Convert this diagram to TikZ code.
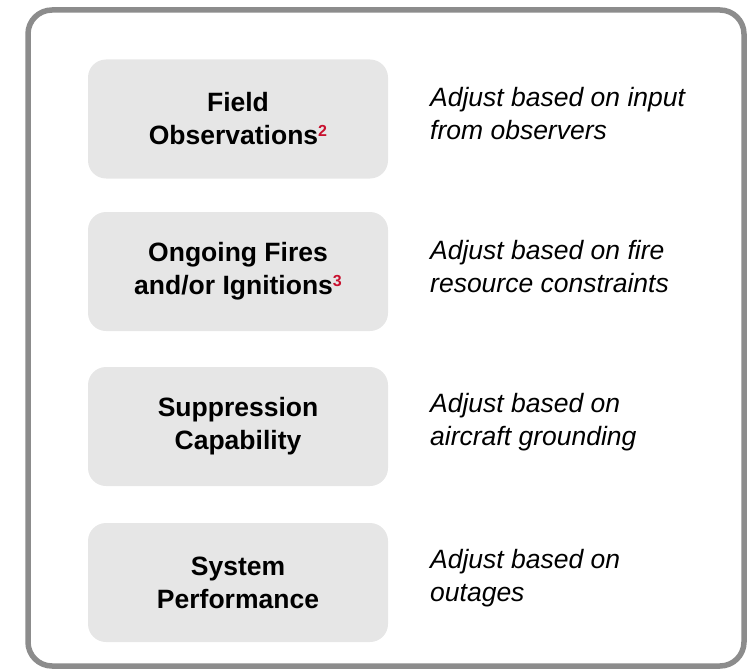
\documentclass[tikz,border=0pt]{standalone}
\usepackage{fontspec}
\setmainfont{Liberation Sans}
\definecolor{framegray}{HTML}{8C8C8C}
\definecolor{boxfill}{HTML}{E6E6E6}
\definecolor{supred}{HTML}{C8102E}
\newcommand{\refnum}[1]{\raisebox{8.5pt}{\fontsize{16}{16}\selectfont\color{supred}#1}}
\tikzset{
  stagebox/.style={fill=boxfill, rounded corners=18pt, minimum width=300pt, minimum height=119pt,
    align=center, inner sep=0pt, font=\bfseries\fontsize{26.5}{33}\selectfont},
  notetext/.style={anchor=west, align=left, inner sep=0pt, font=\itshape\fontsize{26.5}{33}\selectfont}
}
\begin{document}
\begin{tikzpicture}[x=1pt,y=-1pt]
\useasboundingbox (0,0) rectangle (754,671);
\draw[framegray, line width=5.5pt, rounded corners=24pt] (28,10) rectangle (744,666);
\node[stagebox] (b1) at (238,119) {Field\\Observations\refnum{2}};
\node[stagebox] (b2) at (238,271.5) {Ongoing Fires\\and/or Ignitions\refnum{3}};
\node[stagebox] (b3) at (238,426.5) {Suppression\\Capability};
\node[stagebox] (b4) at (238,582.5) {System\\Performance};
\node[notetext] (n1) at (430,114) {Adjust based on input\\from observers};
\node[notetext] (n2) at (430,267) {Adjust based on fire\\resource constraints};
\node[notetext] (n3) at (430,422) {Adjust based on\\aircraft grounding};
\node[notetext] (n4) at (430,578) {Adjust based on\\outages};
\end{tikzpicture}
\end{document}
